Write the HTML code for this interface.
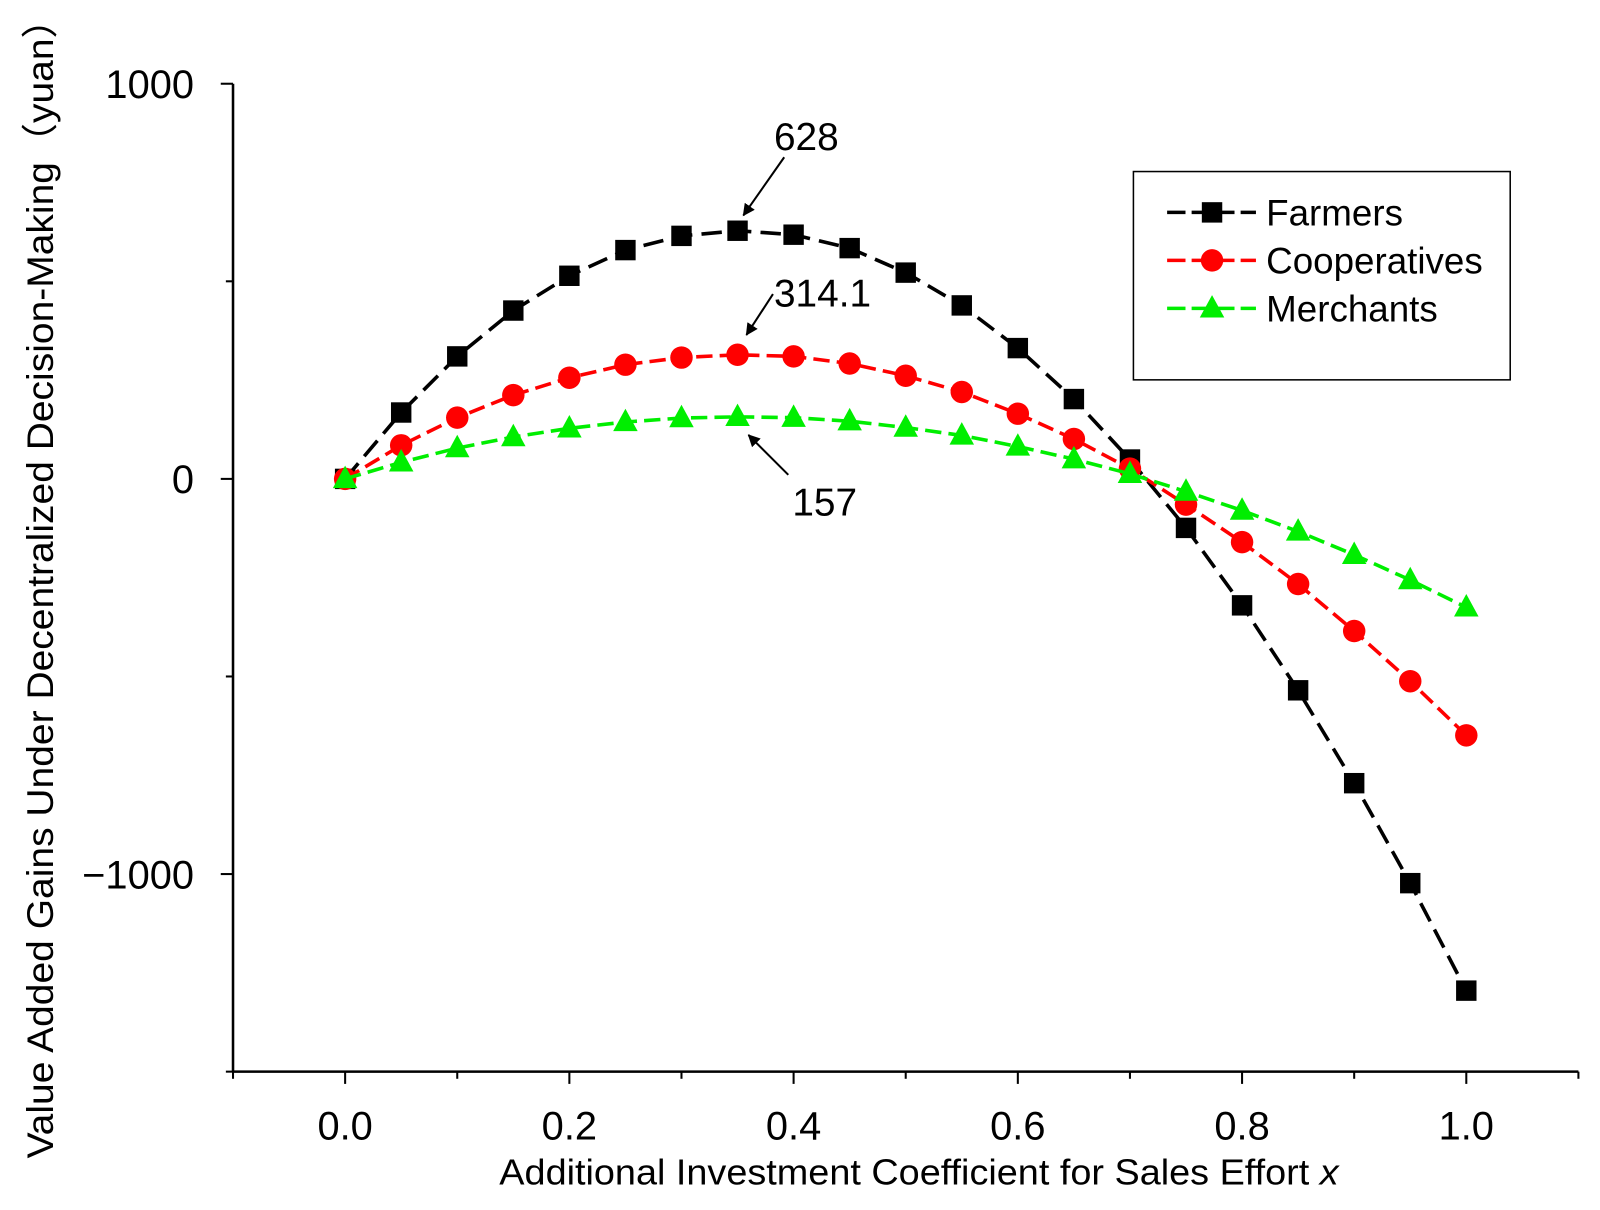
<!DOCTYPE html>
<html><head><meta charset="utf-8"><style>
html,body{margin:0;padding:0;background:#fff;}
svg{display:block;font-family:"Liberation Sans","Noto Sans CJK SC",sans-serif;}
</style></head><body>
<svg id="chart" width="1600" height="1210" viewBox="0 0 1600 1210">
<defs>
<marker id="ah" markerWidth="12" markerHeight="12" refX="11" refY="6" orient="auto" markerUnits="userSpaceOnUse"><path d="M0,0 L12,6 L0,12 z" fill="#000"/></marker>
</defs>
<g transform="scale(1.0211)">
<g id="axes"></g>
<g id="series"></g>
<g id="notes"></g>
<g id="legend">
<rect x="1110" y="168" width="369" height="204" fill="#fff" stroke="#000" stroke-width="1.5"/>
</g>
</g>
</svg>
<script>
const xValues=[0,0.05,0.1,0.15,0.2,0.25,0.3,0.35,0.4,0.45,0.5,0.55,0.6,0.65,0.7,0.75,0.8,0.85,0.9,0.95,1.0];
const farmers=[0,168,310,426,514,579,615,628,618,584,522,439,331,202,49,-124,-320,-535,-770,-1023,-1295];
const cooperatives=[0,85,155,212,256,289,307,314.1,310,292,261,220,165,101,26,-65,-160,-266,-385,-512,-649];
const merchants=[0,42,78,106,128,144,154,157,155,146,130,110,82,50,13,-32,-80,-133,-192,-256,-325];
const xTicks=[0,0.2,0.4,0.6,0.8,1.0];
const xTickLabels=["0.0","0.2","0.4","0.6","0.8","1.0"];
const yTicks=[1000,0,-1000];
const yTickLabels=["1000","0","\u22121000"];
const seriesNames=["Farmers","Cooperatives","Merchants"];

const NS="http://www.w3.org/2000/svg";
const X=v=>338+(v-0)*1098;
const Y=v=>469-v*0.387;
function mk(tag,attrs,parent){const e=document.createElementNS(NS,tag);for(const k in attrs)e.setAttribute(k,attrs[k]);parent.appendChild(e);return e;}
const axes=document.getElementById('axes');
const x0=X(-0.1),x1=X(1.1),yb=Y(-1500),yt=Y(1000);
let a=mk('line',{x1:x0,y1:yb,x2:x0,y2:yt,stroke:'#000','stroke-width':2.5},axes);


a=mk('line',{x1:x0,y1:yb,x2:x1,y2:yb,stroke:'#000','stroke-width':2.5},axes);


for(let v=-1500;v<=1000;v+=500){const major=yTicks.includes(v);mk('line',{x1:x0,x2:x0-(major?12:7),y1:Y(v),y2:Y(v),stroke:'#000','stroke-width':2},axes);}
yTicks.forEach((v,i)=>{const t=mk('text',{x:190,y:Y(v)+14,'text-anchor':'end','font-size':39},axes);t.textContent=yTickLabels[i];

});
for(let k=-1;k<=11;k++){const v=k/10;const major=k%2===0;mk('line',{x1:X(v),x2:X(v),y1:yb,y2:yb+(major?12:7),stroke:'#000','stroke-width':2},axes);}
xTicks.forEach((v,i)=>{const t=mk('text',{x:X(v),y:1116,'text-anchor':'middle','font-size':39},axes);t.textContent=xTickLabels[i];

});
let t=mk('text',{x:900,y:1160,'text-anchor':'middle','font-size':35,textLength:822,lengthAdjust:'spacingAndGlyphs'},axes);
t.innerHTML='Additional Investment Coefficient for Sales Effort <tspan font-style="italic">x</tspan>';


t=mk('text',{x:0,y:0,'text-anchor':'middle','font-size':36,textLength:1135,lengthAdjust:'spacingAndGlyphs',transform:'translate(52,567) rotate(-90)'},axes);
t.textContent='Value Added Gains Under Decentralized Decision-Making\uFF08yuan\uFF09';



const sg=document.getElementById('series');
const cfg=[{d:farmers,c:'#000',m:'sq',dash:'20 9'},{d:cooperatives,c:'#ff0000',m:'ci',dash:'16 7'},{d:merchants,c:'#00ee00',m:'tr',dash:'16 7'}];
function marker(type,cx,cy,c,g){
 if(type==='sq')return mk('rect',{x:cx-10,y:cy-10,width:20,height:20,fill:c},g);
 if(type==='ci')return mk('circle',{cx:cx,cy:cy,r:11,fill:c},g);
 return mk('polygon',{points:`${cx},${cy-13} ${cx+12},${cy+9} ${cx-12},${cy+9}`,fill:c},g);
}
cfg.forEach((s,si)=>{
 const g=mk('g',{},sg);
 
 
 const pts=s.d.map((v,i)=>X(xValues[i])+','+Y(v)).join(' ');
 const pl=mk('polyline',{points:pts,fill:'none',stroke:s.c,'stroke-width':3.5,'stroke-dasharray':s.dash},g);
 
 
 s.d.forEach((v,i)=>{const m=marker(s.m,X(xValues[i]),Y(v),s.c,g);
  
  });
 const lg=document.getElementById('legend');
 const ly=208+si*47;
 const ll=mk('line',{x1:1143,x2:1230,y1:ly,y2:ly,stroke:s.c,'stroke-width':3.5,'stroke-dasharray':'18 6'},lg);
 
 
 const lm=marker(s.m,1187,ly,s.c,lg);
 
 
 const lt=mk('text',{x:1240,y:ly+13,'font-size':36},lg);
 lt.textContent=seriesNames[si];
 
 
});

const ng=document.getElementById('notes');
const notes=[
 {text:'628',tx:758,ty:147,x1:768,y1:154,x2:728,y2:211},
 {text:'314.1',tx:758,ty:300,x1:757,y1:288,x2:731,y2:328},
 {text:'157',tx:776,ty:505,x1:772,y1:465,x2:733,y2:426}];
notes.forEach(n=>{
 const ar=mk('line',{x1:n.x1,y1:n.y1,x2:n.x2,y2:n.y2,stroke:'#000','stroke-width':2,'marker-end':'url(#ah)'},ng);
 
 
 const tt=mk('text',{x:n.tx,y:n.ty,'font-size':38},ng);
 tt.textContent=n.text;
 
 
});
</script>
</body></html>
